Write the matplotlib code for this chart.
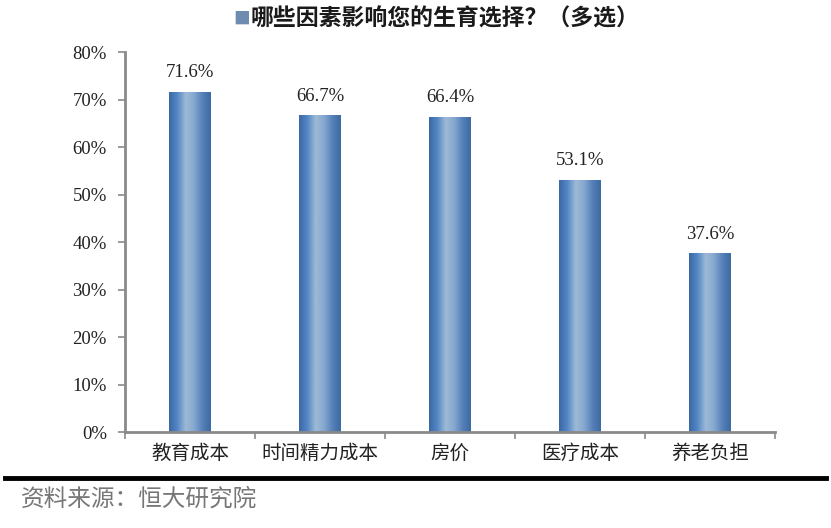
import numpy as np
import matplotlib.pyplot as plt
from matplotlib.colors import LinearSegmentedColormap
from matplotlib.lines import Line2D
from matplotlib.ticker import FixedLocator, FuncFormatter

plt.rcParams["font.family"] = ["Liberation Serif", "Noto Sans CJK SC", "DejaVu Sans"]
plt.rcParams["axes.unicode_minus"] = False

categories = ["教育成本", "时间精力成本", "房价", "医疗成本", "养老负担"]
values = [71.6, 66.7, 66.4, 53.1, 37.6]
y_ticks = [0, 10, 20, 30, 40, 50, 60, 70, 80]

title = "哪些因素影响您的生育选择？（多选）"
source = "资料来源：恒大研究院"

cjk = ["Noto Sans CJK SC", "DejaVu Sans"]
axis_grey = "#8a8a8a"

bar_cmap = LinearSegmentedColormap.from_list(
    "bar", ["#3a68a4", "#5587c6", "#9dbad6", "#86a8d0", "#5580b8", "#3c6aa2"])

fig = plt.figure(figsize=(8.31, 5.28), dpi=100)
ax = fig.add_axes([0.1504, 0.1818, 0.7822, 0.7197])

x = np.arange(len(categories))
bar_width = 0.32
bars = ax.bar(x, values, width=bar_width, color="none", edgecolor="none", zorder=2)

# horizontal gradient fill, clipped to each bar
grad = np.linspace(0, 1, 256).reshape(1, -1)
for rect in bars:
    x0, w, h = rect.get_x(), rect.get_width(), rect.get_height()
    im = ax.imshow(grad, cmap=bar_cmap, aspect="auto",
                   extent=(x0, x0 + w, 0, h), zorder=2, interpolation="bilinear")
    im.set_clip_path(rect)

for xi, v in zip(x, values):
    ax.text(xi, v + 2.2, f"{v:.1f}%", ha="center", va="bottom",
            fontsize=13.5, color="#222222", family="Liberation Serif")

ax.set_xlim(-0.5, len(categories) - 0.5)
ax.set_ylim(0, 80)

ax.yaxis.set_major_locator(FixedLocator(y_ticks))
ax.yaxis.set_major_formatter(FuncFormatter(lambda v, p: f"{v:.0f}%"))
ax.tick_params(axis="y", direction="out", length=5, width=1.2, color=axis_grey,
               labelsize=13.5, labelcolor="#222222", pad=8)

ax.set_xticks(x)
ax.set_xticklabels(categories, family=cjk, fontsize=14, color="#222222")
ax.xaxis.set_minor_locator(FixedLocator(np.arange(-0.5, len(categories), 1.0)))
ax.tick_params(axis="x", which="major", length=0, pad=8)
ax.tick_params(axis="x", which="minor", direction="out", length=5, width=1.2, color=axis_grey)

for side in ["top", "right"]:
    ax.spines[side].set_visible(False)
for side in ["left", "bottom"]:
    ax.spines[side].set_color(axis_grey)
    ax.spines[side].set_linewidth(2)

fig.text(0.281, 0.964, "■", ha="left", va="center", fontsize=12,
         color="#6f8cb0", family=cjk)
fig.text(0.302, 0.964, title, ha="left", va="center", fontsize=16.5,
         fontweight="bold", color="#1a1a1a", family=cjk)

fig.add_artist(Line2D([0.006, 0.994], [0.094, 0.094], transform=fig.transFigure,
                      color="black", linewidth=3.5))
fig.text(0.025, 0.055, source, ha="left", va="center", fontsize=17,
         color="#777777", family=cjk)

fig.savefig("out.png", dpi=100)
